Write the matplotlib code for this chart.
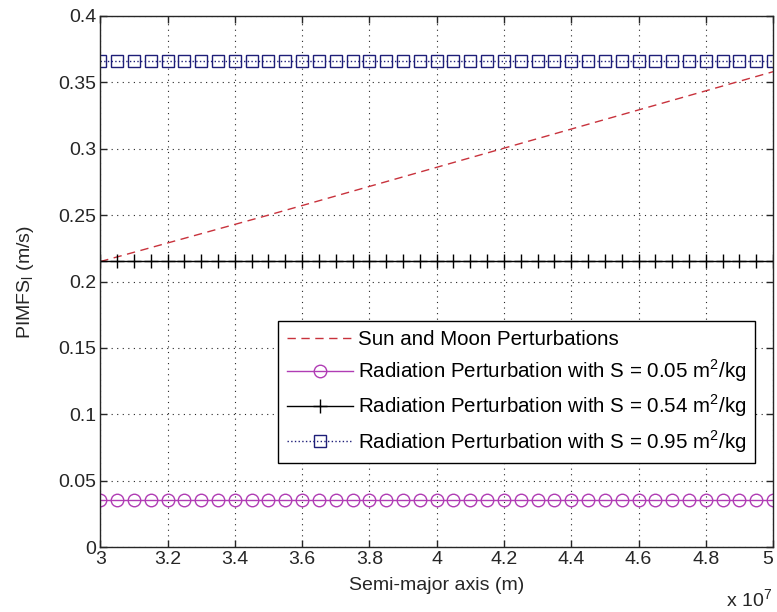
import matplotlib.pyplot as plt

plt.rcParams['font.family'] = ['Liberation Sans', 'DejaVu Sans']
plt.rcParams['font.size'] = 14

# semi-major axis, in units of 1e7 m (41 samples, 3.0 .. 5.0)
semi_major = [3.00, 3.05, 3.10, 3.15, 3.20, 3.25, 3.30, 3.35, 3.40, 3.45,
              3.50, 3.55, 3.60, 3.65, 3.70, 3.75, 3.80, 3.85, 3.90, 3.95,
              4.00, 4.05, 4.10, 4.15, 4.20, 4.25, 4.30, 4.35, 4.40, 4.45,
              4.50, 4.55, 4.60, 4.65, 4.70, 4.75, 4.80, 4.85, 4.90, 4.95,
              5.00]

# sun and moon perturbation read at a few points
sun_moon_x = [3.0, 3.5, 4.0, 4.5, 5.0]
sun_moon = [0.215, 0.250, 0.286, 0.322, 0.358]

# radiation perturbation (constant with semi-major axis)
rad_s005 = [0.0355] * len(semi_major)
rad_s054 = [0.2155] * len(semi_major)
rad_s095 = [0.366] * len(semi_major)

x_ticks = [3, 3.2, 3.4, 3.6, 3.8, 4, 4.2, 4.4, 4.6, 4.8, 5]
x_ticklabels = ['3', '3.2', '3.4', '3.6', '3.8', '4', '4.2', '4.4', '4.6', '4.8', '5']
y_ticks = [0, 0.05, 0.1, 0.15, 0.2, 0.25, 0.3, 0.35, 0.4]
y_ticklabels = ['0', '0.05', '0.1', '0.15', '0.2', '0.25', '0.3', '0.35', '0.4']

fig = plt.figure(figsize=(7.77, 6.12), dpi=100)
ax = fig.add_axes([0.129, 0.106, 0.866, 0.868])

ax.plot(sun_moon_x, sun_moon, '--', color='#c8323c', lw=1.0,
        dashes=(6, 4), label='Sun and Moon Perturbations')
ax.plot(semi_major, rad_s005, '-', color='#b03cb4', lw=1.0, marker='o',
        ms=9, mfc='none', mec='#b03cb4', mew=1.0,
        label='Radiation Perturbation with S = 0.05 m$^\\mathregular{2}$/kg')
ax.plot(semi_major, rad_s054, '-', color='black', lw=1.0, marker='+',
        ms=10, mew=1.0,
        label='Radiation Perturbation with S = 0.54 m$^\\mathregular{2}$/kg')
ax.plot(semi_major, rad_s095, ':', color='#1e1e78', lw=1.0, marker='s',
        ms=9, mfc='none', mec='#1e1e78', mew=1.0,
        label='Radiation Perturbation with S = 0.95 m$^\\mathregular{2}$/kg')

ax.set_xlim(3, 5)
ax.set_ylim(0, 0.4)
ax.set_xticks(x_ticks)
ax.set_xticklabels(x_ticklabels)
ax.get_xticklabels()[-1].set_horizontalalignment('right')
ax.set_yticks(y_ticks)
ax.set_yticklabels(y_ticklabels)
ax.tick_params(direction='in', top=True, right=True, length=5, width=1,
               colors='#262626', labelcolor='#262626', pad=3)
ax.grid(True, linestyle=(0, (1, 4)), color='#262626', lw=0.8)
for s in ax.spines.values():
    s.set_color('#262626')
    s.set_linewidth(1.0)

ax.set_xlabel('Semi-major axis (m)', color='#262626', labelpad=6)
ax.set_ylabel('PIMFS$_\\mathregular{l}$ (m/s)', color='#262626', labelpad=16)
fig.text(0.935, 0.008, 'x 10$^\\mathregular{7}$', color='#262626', fontsize=14)

leg = ax.legend(loc='lower right', bbox_to_anchor=(0.973, 0.158),
                borderaxespad=0, fancybox=False, framealpha=1,
                edgecolor='black', handlelength=3.2, labelspacing=0.42,
                handletextpad=0.25, borderpad=0.42, fontsize=14.8)
leg.get_frame().set_linewidth(1.0)

fig.savefig('out.png', dpi=100)
